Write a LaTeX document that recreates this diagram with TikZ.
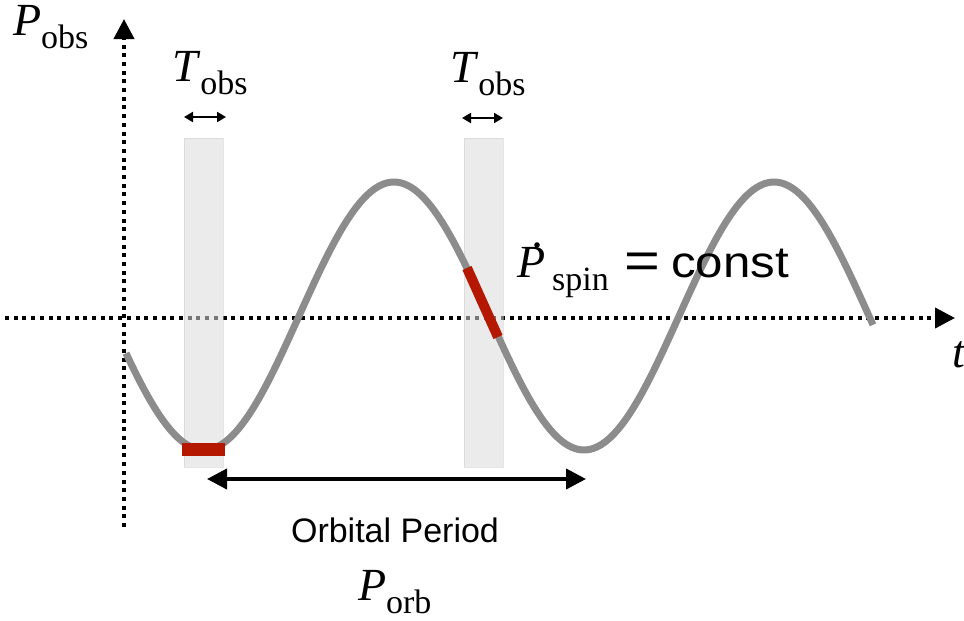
\documentclass[tikz,border=0pt]{standalone}
\usepackage{fontspec}
\setmainfont{Liberation Serif}
\newfontfamily\arialfam{Liberation Sans}
\usetikzlibrary{arrows.meta}
\definecolor{curvegray}{RGB}{140,140,140}
\definecolor{bandgray}{RGB}{218,218,218}
\definecolor{bandedge}{RGB}{205,205,205}
\definecolor{obsred}{RGB}{180,24,0}
\newcommand{\mylab}[3][0pt]{\fontsize{46}{50}\selectfont\textit{#2}\kern#1\raisebox{-13pt}{\fontsize{34}{38}\selectfont #3}}
\tikzset{
  axisline/.style={line width=4pt, dash pattern=on 4pt off 4.7pt, -{Triangle[length=20pt,width=20pt]}},
  band/.style={fill=bandgray, fill opacity=0.55, draw=bandedge, draw opacity=0.5, line width=0.8pt},
  curveline/.style={curvegray, line width=7pt},
  redseg/.style={obsred, line width=10pt},
  smallarrow/.style={line width=2pt, {Triangle[length=9pt,width=10pt]}-{Triangle[length=9pt,width=10pt]}},
  bigarrow/.style={line width=4pt, {Triangle[length=20pt,width=20pt]}-{Triangle[length=20pt,width=20pt]}},
  lbl/.style={inner sep=0pt, outer sep=0pt},
}
\begin{document}
\begin{tikzpicture}[x=1pt,y=-1pt]
\useasboundingbox (0,0) rectangle (964,621);
% axes
\coordinate (vbot) at (124,527);
\coordinate (vtop) at (124,19);
\coordinate (hleft) at (5,318);
\coordinate (hright) at (955,318);
\draw[axisline] (vbot) -- (vtop);
\draw[axisline] (hleft) -- (hright);
% observation bands
\path[band] (184,138) rectangle (223,467);
\path[band] (464,138) rectangle (503,467);
% sine curve
\draw[curveline] plot[domain=126:873, samples=160, smooth] (\x, {316+134*cos((\x-204)/380*360)});
% red observed segments
\fill[obsred] (182,443) rectangle (225,456);
\coordinate (rs1) at (467,268);
\coordinate (rs2) at (498,337);
\draw[redseg] (rs1) -- (rs2);
% T_obs arrows
\coordinate (ta1) at (184,117);
\coordinate (tb1) at (226,117);
\coordinate (ta2) at (462,118);
\coordinate (tb2) at (503,118);
\draw[smallarrow] (ta1) -- (tb1);
\draw[smallarrow] (ta2) -- (tb2);
% orbital period arrow
\coordinate (oa) at (207,479);
\coordinate (ob) at (586,479);
\draw[bigarrow] (oa) -- (ob);
% labels
\node[lbl, anchor=base west] (pobs) at (13,35) {\mylab{P}{obs}};
\node[lbl, anchor=base west] (tobs1) at (172,81) {\mylab{T}{obs}};
\node[lbl, anchor=base west] (tobs2) at (450,82) {\mylab{T}{obs}};
\node[lbl, anchor=base west] (pspin) at (517,277) {\mylab[7pt]{P}{spin}};
\fill (537,245) circle (2.8pt);
\node[lbl, anchor=center, xscale=1.18] (eqsign) at (642,266) {\arialfam\fontsize{52}{54}\selectfont =};
\node[lbl, anchor=base west, xscale=1.12] (const) at (671,277) {\arialfam\fontsize{44}{50}\selectfont const};
\node[lbl, anchor=base west] (tlab) at (952,367) {\fontsize{46}{50}\selectfont\textit{t}};
\node[lbl, anchor=base] (orbtxt) at (395,542) {\arialfam\fontsize{34}{40}\selectfont Orbital Period};
\node[lbl, anchor=base west] (porb) at (358,600) {\mylab{P}{orb}};
\end{tikzpicture}
\end{document}
